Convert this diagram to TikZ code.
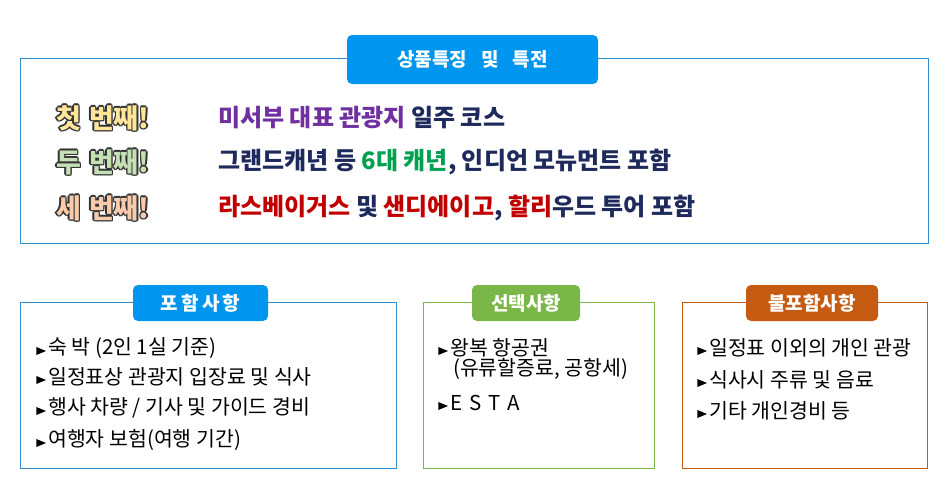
\documentclass[tikz,border=0pt]{standalone}
\usepackage{fontspec}
\setmainfont{Noto Sans CJK KR}
\newcommand{\kb}{\bfseries}
\usetikzlibrary{calc,shapes.geometric}
\definecolor{tblue}{HTML}{0096F0}
\definecolor{bblue}{HTML}{2E8FD6}
\definecolor{tgreen}{HTML}{7AB648}
\definecolor{torange}{HTML}{C55A11}
\definecolor{tpurple}{HTML}{7030A0}
\definecolor{tnavy}{HTML}{1F2A5C}
\definecolor{tgr}{HTML}{00A050}
\definecolor{tred}{HTML}{C00000}
\definecolor{cy}{HTML}{FFE699}
\definecolor{cg}{HTML}{C5E0B4}
\definecolor{cp}{HTML}{F8CBAD}
\newcommand{\outl}[3]{% pos, colour, text
  \foreach \dx/\dy in {-1.3/0,1.3/0,0/-1.3,0/1.3,-1/-1,1/1,-1/1,1/-1}
    \node[anchor=west,inner sep=0,font=\kb\fontsize{27}{30}\selectfont,text=black!80] at ($(#1)+(\dx,\dy)$) {#3};
  \node[anchor=west,inner sep=0,font=\kb\fontsize{27}{30}\selectfont,text=#2] at (#1) {#3};}
\begin{document}
\begin{tikzpicture}[x=1pt,y=-1pt,
  box/.style={draw=#1,line width=0.8pt},
  pill/.style={fill=#1,rounded corners=5pt,text=white,font=\kb\fontsize{19}{22}\selectfont,inner sep=0},
  row/.style={anchor=west,inner sep=0,font=\kb\fontsize{24}{27}\selectfont},
  item/.style={anchor=west,inner sep=0,font=\fontsize{20.5}{23}\selectfont},
  bul/.style={fill=black,isosceles triangle,inner sep=0,minimum width=8pt,minimum height=6pt}]
\useasboundingbox (0,0) rectangle (950,490);
% top
\draw[box=bblue] (20,58) rectangle (928,243);
\node[pill=tblue,minimum width=251pt,minimum height=49pt] (t0) at (472.5,59.5) {상품특징\hspace{14pt}및\hspace{14pt}특전};
\coordinate (l1) at (56,118); \coordinate (l2) at (56,162); \coordinate (l3) at (56,208);
\outl{l1}{cy}{첫\hspace{8pt}번째!}
\outl{l2}{cg}{두\hspace{8pt}번째!}
\outl{l3}{cp}{세\hspace{8pt}번째!}
\node[row] (r1) at (218,118) {\textcolor{tpurple}{미서부 대표 관광지} \textcolor{tnavy}{일주 코스}};
\node[row] (r2) at (218,162) {\textcolor{tnavy}{그랜드캐년 등} \textcolor{tgr}{6대 캐년}\textcolor{tnavy}{, 인디언 모뉴먼트 포함}};
\node[row] (r3) at (218,208) {\textcolor{tred}{라스베이거스} \textcolor{tnavy}{및} \textcolor{tred}{샌디에이고}\textcolor{tnavy}{,} \textcolor{tred}{할리}\textcolor{tnavy}{우드 투어 포함}};
% left
\draw[box=bblue] (20,302) rectangle (396,468);
\node[pill=tblue,minimum width=135pt,minimum height=36pt] (p1) at (200.5,303) {포\,함\,사\,항};
\foreach \y/\t [count=\i] in {348/{숙 박 (2인 1실 기준)},377/{일정표상 관광지 입장료 및 식사},408/{행사 차량 / 기사 및 가이드 경비},440/{여행자 보험(여행 기간)}}{
  \node[bul] (a\i) at (39,\y+3) {};
  \node[item] (la\i) at (48,\y) {\t};}
% middle
\draw[box=tgreen] (423,302) rectangle (654,468);
\node[pill=tgreen,minimum width=108pt,minimum height=36pt] (p2) at (526,303) {선택사항};
\node[bul] (b1) at (441,351) {};
\node[item] (bt1) at (450,348) {왕복 항공권};
\node[item] (bt1b) at (453,369) {(유류할증료, 공항세)};
\node[bul] (b2) at (441,406) {};
\node[item] (bt2) at (450,403) {E\,\,S\,\,T\,\,A};
% right
\draw[box=torange] (682,302) rectangle (927,468);
\node[pill=torange,minimum width=132pt,minimum height=36pt] (p3) at (812,303) {불포함사항};
\foreach \y/\t [count=\i] in {348/{일정표 이외의 개인 관광},380/{식사시 주류 및 음료},411/{기타 개인경비 등}}{
  \node[bul] (c\i) at (700,\y+3) {};
  \node[item] (ct\i) at (709,\y) {\t};}
\end{tikzpicture}
\end{document}
